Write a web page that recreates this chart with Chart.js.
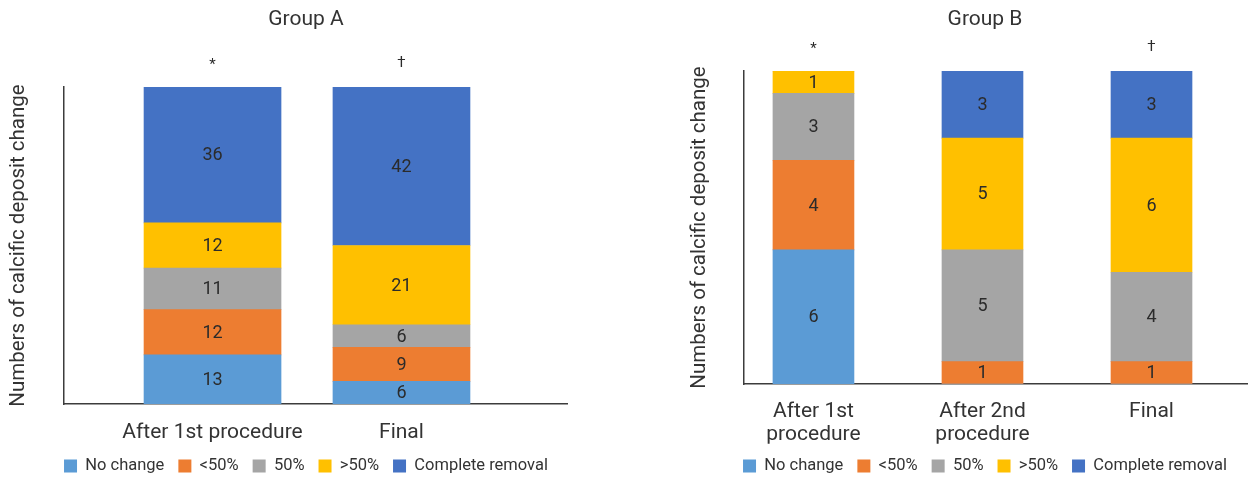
<!DOCTYPE html>
<html>
<head>
<meta charset="utf-8">
<title>Calcific deposit change by group</title>
<script src="https://cdn.jsdelivr.net/npm/chart.js@4.4.1/dist/chart.umd.min.js"></script>
<style>
  html, body { margin: 0; padding: 0; background: #ffffff; }
  body { position: relative; width: 1249px; height: 478px; overflow: hidden; }
  canvas { position: absolute; top: 0; }
  #chartA { left: 0; }
  #chartB { left: 612px; }
</style>
</head>
<body>
<canvas id="chartA" width="612" height="478"></canvas>
<canvas id="chartB" width="637" height="478"></canvas>
<script>
// Response categories, stacked bottom to top, and their colours
const seriesNames = ['No change', '<50%', '50%', '>50%', 'Complete removal'];
const seriesColors = ['#5B9BD5', '#ED7D31', '#A5A5A5', '#FFC000', '#4472C4'];

// Group A
const categoriesA = ['After 1st procedure', 'Final'];
const noChangeA = [13, 6];
const underHalfA = [12, 9];
const halfA = [11, 6];
const overHalfA = [12, 21];
const completeA = [36, 42];
const markersA = ['*', '\u2020'];

// Group B
const categoriesB = [['After 1st', 'procedure'], ['After 2nd', 'procedure'], 'Final'];
const noChangeB = [6, 0, 0];
const underHalfB = [4, 1, 1];
const halfB = [3, 5, 4];
const overHalfB = [1, 5, 6];
const completeB = [0, 3, 3];
const markersB = ['*', '', '\u2020'];

const yTitle = 'Numbers of calcific deposit change';
const FONT = 'Roboto, "Liberation Sans", sans-serif';
const TEXT = '#333333';
const AXIS = '#3c3c3c';

Chart.defaults.font.family = FONT;
Chart.defaults.color = TEXT;

// Writes each segment's count inside it and the significance mark above each stack
function segmentLabels(markers) {
  return {
    id: 'segmentLabels',
    afterDatasetsDraw(chart) {
      const ctx = chart.ctx;
      ctx.save();
      ctx.fillStyle = '#2b2b2b';
      ctx.textAlign = 'center';
      ctx.textBaseline = 'middle';
      ctx.font = '18px ' + FONT;
      const tops = [];
      chart.data.datasets.forEach((ds, di) => {
        const meta = chart.getDatasetMeta(di);
        meta.data.forEach((bar, i) => {
          const value = ds.data[i].y;
          const p = bar.getProps(['x', 'y', 'base'], true);
          tops[i] = tops[i] === undefined ? p.y : Math.min(tops[i], p.y);
          if (!value) return;
          ctx.fillText(String(value), p.x, (p.y + p.base) / 2 + 1);
        });
      });
      ctx.font = '15px ' + FONT;
      ctx.textBaseline = 'alphabetic';
      const first = chart.getDatasetMeta(0);
      markers.forEach((mark, i) => {
        if (!mark) return;
        const m = ctx.measureText(mark);
        const cy = tops[i] - 26;
        ctx.fillText(mark, first.data[i].x, cy + (m.actualBoundingBoxAscent - m.actualBoundingBoxDescent) / 2);
      });
      ctx.restore();
    }
  };
}

function buildChart(canvasId, cfg) {
  const series = cfg.series;
  const datasets = seriesNames.map((name, s) => ({
    label: name,
    data: series[s].map((v, i) => ({ x: i, y: v })),
    backgroundColor: seriesColors[s],
    borderWidth: 0,
    barThickness: cfg.barWidth
  }));
  const total = Math.max(...cfg.categories.map((_, i) => series.reduce((acc, arr) => acc + arr[i], 0)));

  return new Chart(document.getElementById(canvasId), {
    type: 'bar',
    data: { datasets },
    options: {
      responsive: false,
      animation: false,
      events: [],
      layout: { padding: cfg.padding },
      plugins: {
        title: {
          display: true,
          text: cfg.title,
          color: TEXT,
          font: { size: 21, weight: 'normal' },
          padding: { top: 6.9, bottom: cfg.titleGap }
        },
        legend: {
          position: 'bottom',
          labels: { boxWidth: 13, boxHeight: 13, padding: 14, color: TEXT, font: { size: 16.5 } }
        },
        tooltip: { enabled: false }
      },
      scales: {
        x: {
          type: 'linear',
          bounds: 'data',
          offset: false,
          stacked: true,
          min: cfg.xMin,
          max: cfg.xMax,
          grid: { display: false, drawTicks: false, offset: false },
          border: { display: true, color: AXIS, width: 1.5 },
          afterBuildTicks: (scale) => { scale.ticks = cfg.categories.map((_, i) => ({ value: i })); },
          ticks: {
            autoSkip: false,
            maxRotation: 0,
            padding: cfg.tickPad,
            color: TEXT,
            font: { size: 21, lineHeight: cfg.tickLine },
            callback: (v) => cfg.categories[v]
          },
          afterFit: (scale) => {
            scale.height = scale.chart.height - cfg.padding.bottom - scale.chart.legend.height - cfg.plotBottom;
          }
        },
        y: {
          stacked: true,
          min: 0,
          max: total,
          grid: { display: false, drawTicks: false },
          border: { display: true, color: AXIS, width: 1.5 },
          ticks: { display: false },
          title: {
            display: true,
            text: yTitle,
            color: TEXT,
            font: { size: 20.5 },
            padding: { top: cfg.yTitleOffset, bottom: 0 }
          },
          afterFit: (scale) => { scale.width = cfg.yAxisWidth; }
        }
      }
    },
    plugins: [segmentLabels(cfg.markers)]
  });
}

buildChart('chartA', {
  title: 'Group A',
  categories: categoriesA,
  series: [noChangeA, underHalfA, halfA, overHalfA, completeA],
  markers: markersA,
  barWidth: 137,
  xMin: -0.786,
  xMax: 1.876,
  padding: { left: 45, right: 45, top: 0, bottom: -6.25 },
  titleGap: 54.9,
  plotBottom: 404,
  tickPad: 16.4,
  tickLine: 1.2,
  yAxisWidth: 19,
  yTitleOffset: -38.3
});

buildChart('chartB', {
  title: 'Group B',
  categories: categoriesB,
  series: [noChangeB, underHalfB, halfB, overHalfB, completeB],
  markers: markersB,
  barWidth: 81,
  xMin: -0.411,
  xMax: 2.565,
  padding: { left: 111, right: 2, top: 0, bottom: -6.25 },
  titleGap: 38.9,
  plotBottom: 384,
  tickPad: 16.5,
  tickLine: '23px',
  yAxisWidth: 21,
  yTitleOffset: -35.3
});
</script>
</body>
</html>
